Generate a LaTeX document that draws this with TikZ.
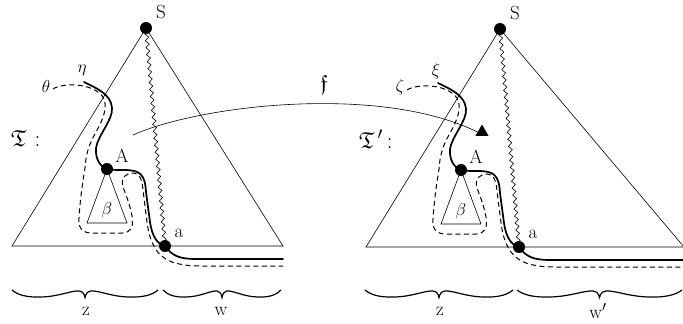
\documentclass[tikz,border=0pt]{standalone}
\usepackage{amssymb}
\usepackage{fontspec}
\usetikzlibrary{decorations.pathmorphing,decorations.pathreplacing,shapes.geometric}
\tikzset{
  thinline/.style={line width=0.6pt},
  thickpath/.style={line width=1.7pt, line cap=round, line join=round},
  dashpath/.style={line width=1pt, dash pattern=on 5pt off 3.5pt},
  dot/.style={circle, fill=black, inner sep=0pt, minimum size=12pt},
  wavy/.style={decorate, decoration={snake, amplitude=1.8pt, segment length=7pt}, line width=0.6pt},
  lbl/.style={font=\fontsize{19}{22}\selectfont, inner sep=0pt},
  bigT/.style={font=\fontsize{23}{26}\selectfont, inner sep=0pt},
  bracestyle/.style={line width=1.2pt, line join=miter},
  fline/.style={line width=0.6pt},
  tipmark/.style={regular polygon, regular polygon sides=3, fill=black, inner sep=0pt, minimum size=15pt},
}
\newcommand\wbrace[2]{%
  \pgfmathsetmacro\wbA{#1}\pgfmathsetmacro\wbB{#2}%
  \pgfmathsetmacro\wbM{(#1+#2)/2}\pgfmathsetmacro\wbH{(#2-#1)/2}%
  \draw[bracestyle] (\wbA,290)
    .. controls ({\wbA+0.08*\wbH},295) and ({\wbA+0.2*\wbH},297.5) .. ({\wbA+0.4*\wbH},297)
    .. controls ({\wbA+0.65*\wbH},296.5) and ({\wbM-0.2*\wbH},290.5) .. ({\wbM-0.08*\wbH},291)
    .. controls ({\wbM-0.03*\wbH},291.5) and ({\wbM-0.01*\wbH},294) .. (\wbM,297.5)
    .. controls ({\wbM+0.01*\wbH},294) and ({\wbM+0.03*\wbH},291.5) .. ({\wbM+0.08*\wbH},291)
    .. controls ({\wbM+0.2*\wbH},290.5) and ({\wbB-0.65*\wbH},296.5) .. ({\wbB-0.4*\wbH},297)
    .. controls ({\wbB-0.2*\wbH},297.5) and ({\wbB-0.08*\wbH},295) .. (\wbB,290);
}
\newcommand\drawtree[4]{%
  \coordinate (#1Spos) at (146,28);
  \coordinate (#1L) at (12,246);
  \coordinate (#1R) at (#2,246);
  \coordinate (#1Apos) at (107,169);
  \coordinate (#1apos) at (165,246);
  \coordinate (#1b1) at (87,223);
  \coordinate (#1b2) at (127,223);
  \coordinate (#1p0) at (84,82);
  \coordinate (#1q0) at (53,89);
  \coordinate (#1pend) at (#2,259);
  \coordinate (#1qend) at (#2,266);
  \draw[thinline] (#1Spos) -- (#1L) -- (#1R) -- cycle;
  \draw[thinline] (#1Apos) -- (#1b1) -- (#1b2) -- cycle;
  \draw[wavy] (#1Spos) -- (#1apos);
  \draw[dashpath] (#1q0) .. controls (62,83) and (92,82) .. (103,97)
    .. controls (108,106) and (104,118) .. (96,132)
    .. controls (88,146) and (86,155) .. (85,168)
    .. controls (83,180) and (80,200) .. (79,218)
    .. controls (78,230) and (84,233) .. (92,233) -- (122,233)
    .. controls (130,233) and (134,228) .. (132,216)
    .. controls (130,205) and (126,195) .. (123,187)
    .. controls (120,177) and (127,173) .. (133,173)
    .. controls (139,173) and (142,178) .. (143,190) -- (147,222)
    .. controls (150,245) and (158,258) .. (175,263)
    .. controls (183,265) and (190,266) .. (200,266) -- (#1qend);
  \draw[thickpath] (#1p0) .. controls (96,88) and (111,94) .. (112,108)
    .. controls (113,120) and (98,135) .. (96,148)
    .. controls (95,158) and (100,167) .. (#1Apos)
    .. controls (112,170) and (116,170) .. (124,170)
    .. controls (140,170) and (145,174) .. (146,192) -- (150,222)
    .. controls (152,236) and (157,244) .. (#1apos)
    .. controls (172,256) and (180,259) .. (196,259) -- (#1pend);
  \node[dot] (#1S) at (#1Spos) {};
  \node[dot] (#1A) at (#1Apos) {};
  \node[dot] (#1a) at (#1apos) {};
  \node[lbl] (#1Slbl) at (161,12) {S};
  \node[lbl] (#1Albl) at (122,156) {A};
  \node[lbl] (#1albl) at (179,233) {a};
  \node[lbl] (#1blbl) at (107,210) {$\beta$};
  \node[lbl] (#1gone) at (82,70) {#3};
  \node[lbl] (#1gtwo) at (46,86) {#4};
}
\begin{document}
\begin{tikzpicture}[x=1pt,y=-1pt]
\useasboundingbox (0,0) rectangle (683,324);
% left tree
\drawtree{L}{283}{$\eta$}{$\theta$}
% right tree
\begin{scope}[shift={(354,1)}]
\drawtree{R}{330}{$\xi$}{$\zeta$}
\end{scope}
% tree names
\node[bigT, anchor=west] (Tleft) at (11,139) {$\mathfrak{T}$\hspace{8pt}:};
\node[bigT, anchor=west] (Tright) at (359,139) {$\mathfrak{T}$\hspace{3pt}$'$\hspace{4pt}:};
% map f
\coordinate (fstart) at (133,135);
\node[tipmark] (ftip) at (482,132) {};
\draw[fline] (fstart) .. controls (200,105) and (380,84) .. (ftip.west);
\node[lbl, font=\fontsize{22}{25}\selectfont] (flbl) at (324,85) {$\mathfrak{f}$};
% braces
\wbrace{12}{158}
\wbrace{163}{281}
\wbrace{365}{513}
\wbrace{517}{682}
\node[lbl] (zl) at (86,311) {z};
\node[lbl] (wl) at (221,311) {w};
\node[lbl] (zr) at (440,311) {z};
\node[lbl] (wr) at (598,311) {w$'$};
\end{tikzpicture}
\end{document}
